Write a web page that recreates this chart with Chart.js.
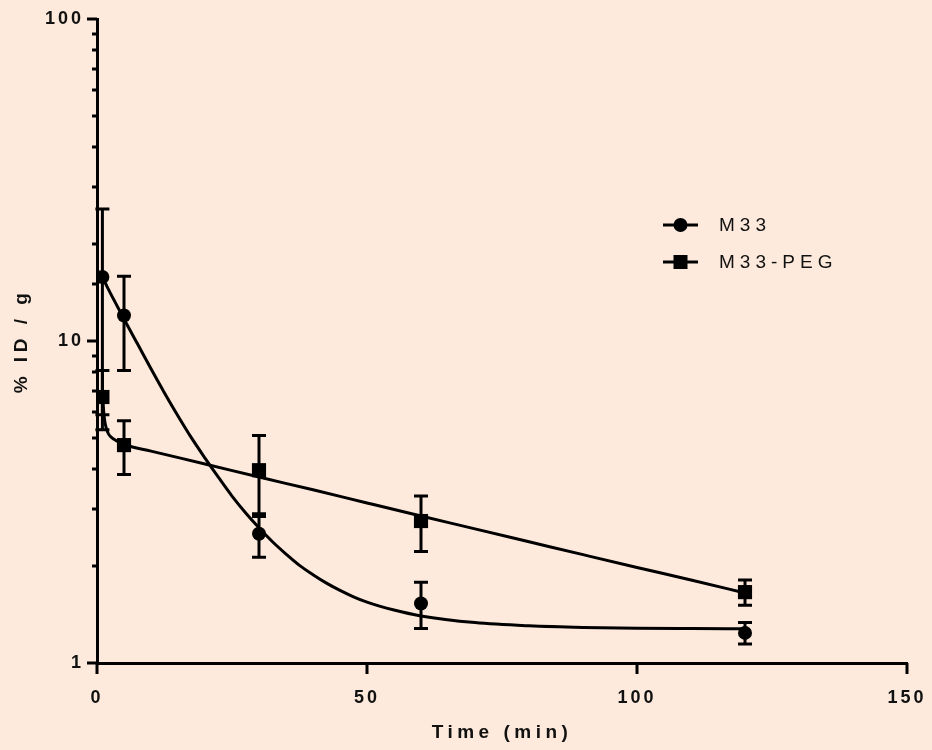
<!DOCTYPE html>
<html>
<head>
<meta charset="utf-8">
<script src="https://cdn.jsdelivr.net/npm/chart.js@4.4.1/dist/chart.umd.min.js"></script>
<style>
  html, body { margin: 0; padding: 0; background: #fdeadc; }
  #wrap { width: 932px; height: 750px; position: relative; }
</style>
</head>
<body>
<div id="wrap"><canvas id="c" width="932" height="750"></canvas></div>
<script>
// ---- Data ----
const timePoints = [1, 5, 30, 60, 120];
const m33Mean = [15.8, 12.0, 2.52, 1.53, 1.24];
const m33Err  = [9.9, 3.9, 0.39, 0.25, 0.095];
const pegMean = [6.7, 4.75, 3.97, 2.76, 1.66];
const pegErr  = [1.4, 0.9, 1.12, 0.54, 0.15];

// fitted curves
const curveTimeM33 = [1, 2, 3, 4, 5, 7.5, 10, 12.5, 15, 17.5, 20, 22.5, 25, 27.5, 30, 32.5, 35, 37.5, 40, 42.5, 45, 47.5, 50, 55, 60, 70, 80, 90, 100, 110, 120];
const curveM33     = [15.8, 14.6, 13.55, 12.6, 11.7, 9.8, 8.2, 6.9, 5.85, 5.0, 4.33, 3.77, 3.3, 2.93, 2.63, 2.38, 2.18, 2.01, 1.88, 1.77, 1.68, 1.605, 1.545, 1.46, 1.40, 1.335, 1.305, 1.29, 1.283, 1.28, 1.278];
const curveTimePEG = [1, 1.25, 1.5, 2, 2.5, 3, 4, 5, 10, 20, 30, 40, 50, 60, 70, 80, 90, 100, 110, 120];
const curvePEG     = [7.0, 6.0, 5.55, 5.2, 5.05, 4.97, 4.86, 4.77, 4.55, 4.15, 3.78, 3.45, 3.14, 2.86, 2.61, 2.38, 2.17, 1.98, 1.81, 1.65];

const xTickValues = [0, 50, 100, 150];
const yLabelValues = [1, 10, 100];
const seriesNames = ['M33', 'M33-PEG'];

const FONT = "'Liberation Sans', Arial, Helvetica, sans-serif";
const BG = '#fdeadc';

const toXY = (xs, ys) => xs.map((x, i) => ({ x: x, y: ys[i] }));
const isPow10 = v => Math.abs(Math.log10(v) - Math.round(Math.log10(v))) < 1e-9;

// letter spacing by font (reference uses widely spaced glyphs)
const spacingPlugin = {
  id: 'spacing',
  beforeInit(chart) {
    const ctx = chart.ctx;
    const orig = CanvasRenderingContext2D.prototype.fillText;
    ctx.fillText = function (t, x, y, m) {
      const f = this.font;
      let ls = '0px';
      if (/18px/.test(f)) ls = '3px';
      else if (/19px/.test(f) && /bold/.test(f)) ls = '4.5px';
      else if (/19px/.test(f)) ls = '5px';
      this.letterSpacing = ls;
      const r = m === undefined ? orig.call(this, t, x, y) : orig.call(this, t, x, y, m);
      this.letterSpacing = '0px';
      return r;
    };
  }
};

const bgPlugin = {
  id: 'bg',
  beforeDraw(chart) {
    const ctx = chart.ctx;
    ctx.save();
    ctx.fillStyle = BG;
    ctx.fillRect(0, 0, chart.width, chart.height);
    ctx.restore();
  }
};

const tickPlugin = {
  id: 'tickMarks',
  afterDraw(chart) {
    const ctx = chart.ctx;
    const xs = chart.scales.x, ys = chart.scales.y;
    const area = chart.chartArea;
    ctx.save();
    ctx.strokeStyle = '#000';
    ctx.lineWidth = 3;
    ctx.lineCap = 'butt';
    ys.ticks.forEach(t => {
      const py = Math.round(ys.getPixelForValue(t.value));
      const len = isPow10(t.value) ? 10 : 5;
      ctx.beginPath();
      ctx.moveTo(area.left, py);
      ctx.lineTo(area.left - len, py);
      ctx.stroke();
    });
    xTickValues.forEach(v => {
      const px = Math.round(xs.getPixelForValue(v));
      ctx.beginPath();
      ctx.moveTo(px, area.bottom);
      ctx.lineTo(px, area.bottom + 11);
      ctx.stroke();
    });
    ctx.restore();
  }
};

const errPlugin = {
  id: 'errorBars',
  beforeDatasetsDraw(chart) {
    const ctx = chart.ctx;
    const xs = chart.scales.x, ys = chart.scales.y;
    const sets = [[m33Mean, m33Err], [pegMean, pegErr]];
    ctx.save();
    ctx.strokeStyle = '#000';
    ctx.lineWidth = 3;
    sets.forEach(([mean, err]) => {
      timePoints.forEach((t, i) => {
        const px = xs.getPixelForValue(t);
        const top = ys.getPixelForValue(mean[i] + err[i]);
        const bot = ys.getPixelForValue(Math.max(mean[i] - err[i], 1.0001));
        const cap = 7;
        ctx.beginPath();
        ctx.moveTo(px, top); ctx.lineTo(px, bot);
        ctx.moveTo(px - cap, top); ctx.lineTo(px + cap, top);
        ctx.moveTo(px - cap, bot); ctx.lineTo(px + cap, bot);
        ctx.stroke();
      });
    });
    ctx.restore();
  }
};

const legendPlugin = {
  id: 'customLegend',
  afterDraw(chart) {
    const ctx = chart.ctx;
    const rows = [{ y: 225, style: 'circle' }, { y: 262, style: 'rect' }];
    ctx.save();
    rows.forEach((r, i) => {
      ctx.strokeStyle = '#000';
      ctx.lineWidth = 3;
      ctx.beginPath();
      ctx.moveTo(663, r.y); ctx.lineTo(698, r.y);
      ctx.stroke();
      ctx.fillStyle = '#000';
      if (r.style === 'circle') {
        ctx.beginPath();
        ctx.arc(680.5, r.y, 7, 0, Math.PI * 2);
        ctx.fill();
      } else {
        ctx.fillRect(673.5, r.y - 7, 14, 14);
      }
      ctx.fillStyle = '#111';
      ctx.font = '19px ' + FONT;
      ctx.textAlign = 'left';
      ctx.textBaseline = 'middle';
      ctx.fillText(seriesNames[i], 719, r.y + 1);
    });
    ctx.restore();
  }
};

new Chart(document.getElementById('c'), {
  type: 'scatter',
  data: {
    datasets: [
      {
        label: seriesNames[0] + ' fit',
        data: toXY(curveTimeM33, curveM33),
        showLine: true,
        borderColor: '#000',
        borderWidth: 3,
        pointRadius: 0,
        cubicInterpolationMode: 'monotone',
        fill: false
      },
      {
        label: seriesNames[1] + ' fit',
        data: toXY(curveTimePEG, curvePEG),
        showLine: true,
        borderColor: '#000',
        borderWidth: 3,
        pointRadius: 0,
        cubicInterpolationMode: 'monotone',
        fill: false
      },
      {
        label: seriesNames[0],
        data: toXY(timePoints, m33Mean),
        showLine: false,
        pointStyle: 'circle',
        pointRadius: 7,
        pointBackgroundColor: '#000',
        pointBorderColor: '#000',
        pointBorderWidth: 0
      },
      {
        label: seriesNames[1],
        data: toXY(timePoints, pegMean),
        showLine: false,
        pointStyle: 'rect',
        pointRadius: 10,
        pointBackgroundColor: '#000',
        pointBorderColor: '#000',
        pointBorderWidth: 0
      }
    ]
  },
  options: {
    responsive: false,
    animation: false,
    devicePixelRatio: 1,
    layout: { padding: { left: 0, right: 25, top: 19, bottom: 0 } },
    plugins: {
      legend: { display: false },
      tooltip: { enabled: false }
    },
    scales: {
      x: {
        type: 'linear',
        min: 0, max: 150,
        afterFit(s) { s.height = 87; s.paddingLeft = 0; s.paddingRight = 0; },
        afterBuildTicks(s) { s.ticks = xTickValues.map(v => ({ value: v })); },
        grid: { display: false, drawTicks: false },
        border: { display: true, color: '#000', width: 3 },
        ticks: {
          padding: 24,
          color: '#111',
          font: { family: FONT, size: 18, weight: 'bold' },
          maxRotation: 0
        },
        title: {
          display: true,
          text: 'Time (min)',
          color: '#111',
          font: { family: FONT, size: 19, weight: 'bold' },
          padding: { top: 0, bottom: 6 }
        }
      },
      y: {
        type: 'logarithmic',
        min: 1, max: 100,
        afterFit(s) { s.width = 97; s.paddingTop = 0; s.paddingBottom = 0; },
        grid: { display: false, drawTicks: false },
        border: { display: true, color: '#000', width: 3 },
        ticks: {
          autoSkip: false,
          padding: 13,
          color: '#111',
          font: { family: FONT, size: 18, weight: 'bold' },
          callback(v) { return yLabelValues.some(p => Math.abs(p - v) < 1e-9) ? String(v) : ''; }
        },
        title: {
          display: true,
          text: '% ID / g',
          color: '#111',
          font: { family: FONT, size: 19, weight: 'bold' },
          padding: { top: 10, bottom: 0 }
        }
      }
    }
  },
  plugins: [spacingPlugin, bgPlugin, errPlugin, tickPlugin, legendPlugin]
});
</script>
</body>
</html>
